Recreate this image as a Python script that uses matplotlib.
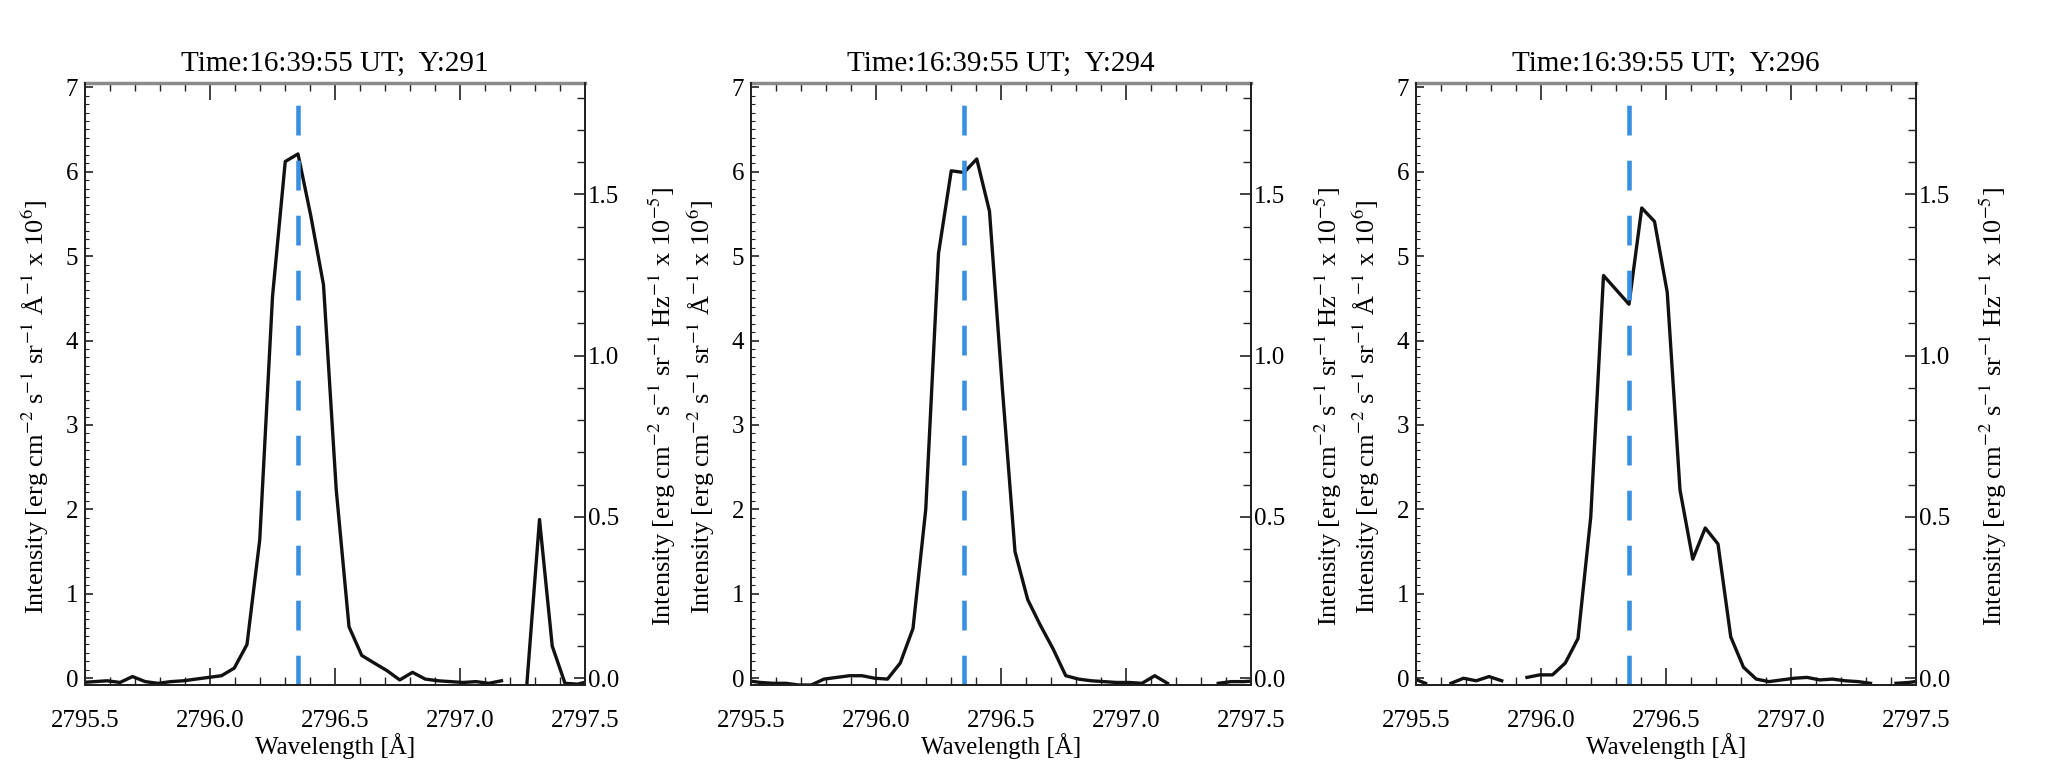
import numpy as np
import matplotlib
matplotlib.use("Agg")
import matplotlib.pyplot as plt
from matplotlib.ticker import MultipleLocator, FormatStrFormatter

plt.rcParams['font.family'] = ['Liberation Serif', 'DejaVu Serif']
plt.rcParams['mathtext.fontset'] = 'stix'

nan = float('nan')

# ---- data -------------------------------------------------------------
WAVELENGTH = [2795.487, 2795.538, 2795.589, 2795.640, 2795.690, 2795.741,
              2795.792, 2795.843, 2795.894, 2795.944, 2795.995, 2796.046,
              2796.097, 2796.148, 2796.199, 2796.250, 2796.301, 2796.352,
              2796.403, 2796.454, 2796.505, 2796.556, 2796.607, 2796.657,
              2796.708, 2796.759, 2796.810, 2796.861, 2796.912, 2796.962,
              2797.013, 2797.064, 2797.115, 2797.166, 2797.217, 2797.268,
              2797.318, 2797.369, 2797.420, 2797.471, 2797.522]

INT_Y291 = [-0.05, -0.04, -0.03, -0.05, 0.02, -0.04,
            -0.06, -0.04, -0.03, -0.01, 0.01, 0.03,
            0.12, 0.40, 1.64, 4.52, 6.12, 6.21,
            5.48, 4.66, 2.23, 0.61, 0.27, 0.18,
            0.09, -0.02, 0.07, -0.01, -0.03, -0.04,
            -0.05, -0.04, -0.06, -0.03, nan, -0.05,
            1.88, 0.38, -0.06, -0.07, -0.03]

INT_Y294 = [-0.03, -0.05, -0.06, -0.06, -0.08, -0.08,
            -0.01, 0.01, 0.03, 0.03, 0.00, -0.01,
            0.18, 0.59, 2.00, 5.03, 6.01, 5.99,
            6.15, 5.53, 3.45, 1.50, 0.93, 0.63,
            0.35, 0.03, -0.01, -0.03, -0.04, -0.05,
            -0.05, -0.06, 0.03, -0.06, nan, nan,
            nan, -0.06, -0.04, -0.04, -0.03]

INT_Y296 = [0.00, -0.06, nan, -0.06, 0.00, -0.03,
            0.02, -0.03, nan, 0.01, 0.04, 0.04,
            0.18, 0.47, 1.91, 4.77, 4.60, 4.43,
            5.57, 5.41, 4.57, 2.23, 1.41, 1.78,
            1.59, 0.49, 0.13, -0.01, -0.04, -0.02,
            0.00, 0.01, -0.02, -0.01, -0.03, -0.04,
            -0.06, nan, -0.06, -0.05, -0.03]

SERIES = [INT_Y291, INT_Y294, INT_Y296]
TIME_LABEL = "16:39:55"
Y_POSITIONS = [291, 294, 296]
REST_WL = 2796.35
X_TICKS = [2795.5, 2796.0, 2796.5, 2797.0, 2797.5]
LEFT_TICKS = [0, 1, 2, 3, 4, 5, 6, 7]
RIGHT_TICKS = [0.0, 0.5, 1.0, 1.5]
HZ_FACTOR = 1 / 3.82   # right-axis units per left-axis unit

# ---- layout -----------------------------------------------------------
W, H = 2059, 777
fig = plt.figure(figsize=(W / 100, H / 100), dpi=100)
lefts = [85, 751, 1416]
ax_w = 500
top, bottom = 83, 685
YMIN, YMAX = -0.08, 7.05
XMIN, XMAX = 2795.5, 2797.5

left_label = "Intensity [erg cm$^{-2}$ s$^{-1}$ sr$^{-1}$ Å$^{-1}$ x 10$^{6}$]"
right_label = "Intensity [erg cm$^{-2}$ s$^{-1}$ sr$^{-1}$ Hz$^{-1}$ x 10$^{-5}$]"

for left, yvals, ypos in zip(lefts, SERIES, Y_POSITIONS):
    ax = fig.add_axes([left / W, (H - bottom) / H, ax_w / W, (bottom - top) / H])
    ax.plot(WAVELENGTH, yvals, color='#111111', lw=2.4, zorder=3)
    ax.axvline(REST_WL, color='#3a8fe3', lw=3.3, dashes=(6.5, 5.5), zorder=4)
    ax.set_xlim(XMIN, XMAX)
    ax.set_ylim(YMIN, YMAX)
    ax.set_xticks(X_TICKS)
    ax.xaxis.set_minor_locator(MultipleLocator(0.1))
    ax.xaxis.set_major_formatter(FormatStrFormatter('%.1f'))
    ax.set_yticks(LEFT_TICKS)
    ax.yaxis.set_minor_locator(MultipleLocator(0.1))
    ax.tick_params(which='both', direction='in', top=True, bottom=True,
                   left=True, right=False, labelsize=18, color='#222222')
    ax.tick_params(axis='x', which='major', length=12, width=1.2, pad=18)
    ax.tick_params(axis='x', which='minor', length=6, width=1.0)
    ax.tick_params(axis='y', which='major', length=6, width=1.2, pad=5)
    ax.tick_params(axis='y', which='minor', length=3, width=0.8)
    for s in ['left', 'bottom', 'right']:
        ax.spines[s].set_linewidth(1.4)
        ax.spines[s].set_color('#222222')
    ax.spines['top'].set_linewidth(2.5)
    ax.spines['top'].set_color('#8a8a8a')

    ax.set_title(f"Time:{TIME_LABEL} UT;  Y:{ypos}", fontsize=21, pad=9)
    ax.set_xlabel("Wavelength [Å]", fontsize=18)
    ax.xaxis.set_label_coords(0.5, -0.08)
    ax.set_ylabel(left_label, fontsize=19)
    ax.yaxis.set_label_coords(-0.068, 0.462)

    ax2 = ax.twinx()
    ax2.set_ylim(YMIN * HZ_FACTOR, YMAX * HZ_FACTOR)
    ax2.set_yticks(RIGHT_TICKS)
    ax2.yaxis.set_minor_locator(MultipleLocator(0.1))
    ax2.yaxis.set_major_formatter(FormatStrFormatter('%.1f'))
    ax2.tick_params(which='both', direction='in', labelsize=18, color='#222222')
    ax2.tick_params(which='major', length=8, width=1.2, pad=2)
    ax2.tick_params(which='minor', length=6, width=1.0)
    for s in ['left', 'bottom', 'right']:
        ax2.spines[s].set_linewidth(1.4)
        ax2.spines[s].set_color('#222222')
    ax2.spines['top'].set_visible(False)
    ax2.set_ylabel(right_label, fontsize=19)
    ax2.yaxis.set_label_coords(1.124, 0.462)

fig.savefig("out.png", dpi=100)
